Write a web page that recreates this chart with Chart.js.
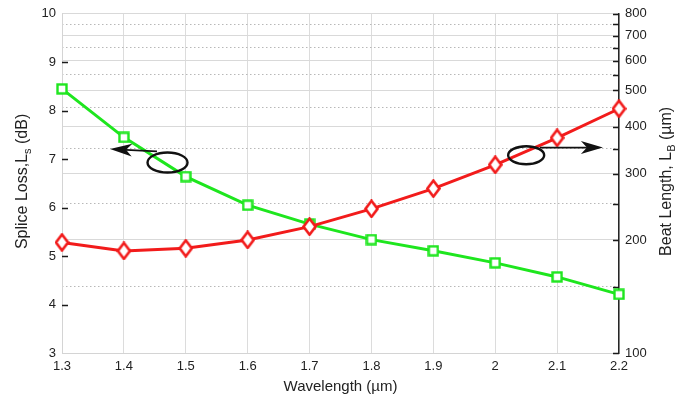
<!DOCTYPE html>
<html>
<head>
<meta charset="utf-8">
<script src="https://cdn.jsdelivr.net/npm/chart.js@4/dist/chart.umd.min.js"></script>
<style>
  html, body { margin: 0; padding: 0; background: #ffffff; }
  #wrap { width: 684px; height: 401px; }
</style>
</head>
<body>
<div id="wrap"><canvas id="c" width="684" height="401"></canvas></div>
<script>
// Wavelength samples (µm)
const wavelengths = [1.3, 1.4, 1.5, 1.6, 1.7, 1.8, 1.9, 2.0, 2.1, 2.2];
// Splice loss L_s (dB), left axis
const spliceLoss = [8.45, 7.45, 6.64, 6.05, 5.66, 5.34, 5.11, 4.86, 4.57, 4.21];
// Beat length L_B (µm), right log axis
const beatLength = [197, 187, 190, 200, 217, 242, 274, 317, 374, 447];

// Tick values
const xTicks = [1.3, 1.4, 1.5, 1.6, 1.7, 1.8, 1.9, 2.0, 2.1, 2.2];
const lossTicks = [3, 4, 5, 6, 7, 8, 9, 10];
const beatTicks = [100, 150, 200, 250, 300, 350, 400, 450, 500, 550, 600, 650, 700, 750, 800];
const beatLabels = [100, 200, 300, 400, 500, 600, 700, 800];

const FONT = '"Liberation Sans", Arial, Helvetica, sans-serif';
const GREEN = '#1ee61e';
const RED = '#f21b1b';

function markerSquare(color) {
  const s = 12, c = document.createElement('canvas');
  c.width = s; c.height = s;
  const g = c.getContext('2d');
  g.fillStyle = '#ffffff';
  g.strokeStyle = color;
  g.lineWidth = 2.4;
  g.fillRect(1.5, 1.5, s - 3, s - 3);
  g.strokeRect(1.5, 1.5, s - 3, s - 3);
  return c;
}

function markerDiamond(color) {
  const w = 15, h = 19, c = document.createElement('canvas');
  c.width = w; c.height = h;
  const g = c.getContext('2d');
  g.beginPath();
  g.moveTo(w / 2, 1.5);
  g.lineTo(w - 1.5, h / 2);
  g.lineTo(w / 2, h - 1.5);
  g.lineTo(1.5, h / 2);
  g.closePath();
  g.fillStyle = '#ffffff';
  g.fill();
  g.strokeStyle = color;
  g.lineWidth = 2.6;
  g.stroke();
  return c;
}

// Short inward tick marks on both vertical axes
const innerTicks = {
  id: 'innerTicks',
  beforeDatasetsDraw(chart) {
    const { ctx } = chart;
    const yl = chart.scales.yLoss, yb = chart.scales.yBeat;
    ctx.save();
    ctx.strokeStyle = '#1a1a1a';
    ctx.lineWidth = 1.3;
    ctx.beginPath();
    lossTicks.forEach(v => {
      if (v === yl.min || v === yl.max) return;
      const y = Math.round(yl.getPixelForValue(v)) + 0.5;
      ctx.moveTo(yl.right, y);
      ctx.lineTo(yl.right + 6, y);
    });
    beatTicks.forEach(v => {
      const y = Math.round(yb.getPixelForValue(v)) + 0.5;
      ctx.moveTo(yb.left, y);
      ctx.lineTo(yb.left - 6, y);
    });
    ctx.stroke();
    ctx.restore();
  }
};

// Rotated axis titles with subscripts
function drawRotatedTitle(ctx, cx, cy, parts, size) {
  ctx.save();
  ctx.translate(cx, cy);
  ctx.rotate(-Math.PI / 2);
  ctx.fillStyle = '#222222';
  ctx.textBaseline = 'middle';
  const subSize = Math.round(size * 0.7);
  let total = 0;
  parts.forEach(p => {
    ctx.font = (p.sub ? subSize : size) + 'px ' + FONT;
    total += ctx.measureText(p.t).width;
  });
  let x = -total / 2;
  parts.forEach(p => {
    ctx.font = (p.sub ? subSize : size) + 'px ' + FONT;
    ctx.textAlign = 'left';
    ctx.fillText(p.t, x, p.sub ? size * 0.32 : 0);
    x += ctx.measureText(p.t).width;
  });
  ctx.restore();
}

const sideTitles = {
  id: 'sideTitles',
  afterDraw(chart) {
    const { ctx, chartArea } = chart;
    const cy = (chartArea.top + chartArea.bottom) / 2;
    drawRotatedTitle(ctx, 23, cy - 2, [
      { t: 'Splice Loss,L' }, { t: 's', sub: true }, { t: ' (dB)' }
    ], 16);
    drawRotatedTitle(ctx, 667, cy - 2, [
      { t: 'Beat Length, L' }, { t: 'B', sub: true }, { t: ' (µm)' }
    ], 16);
  }
};

// Ellipses with arrows pointing each curve to its axis
const axisPointers = {
  id: 'axisPointers',
  afterDatasetsDraw(chart) {
    const { ctx } = chart;
    const x = chart.scales.x, y = chart.scales.yLoss;
    const ellipses = [
      { x: 1.4705, y: 6.93, rx: 20, ry: 10 },
      { x: 2.05, y: 7.08, rx: 18, ry: 9 }
    ];
    const arrows = [
      { from: [1.4535, 7.16], to: [1.3776, 7.21] },
      { from: [2.072, 7.24], to: [2.174, 7.24] }
    ];
    ctx.save();
    ctx.strokeStyle = '#111111';
    ctx.fillStyle = '#111111';
    ctx.lineWidth = 2.4;
    ellipses.forEach(e => {
      ctx.beginPath();
      ctx.ellipse(x.getPixelForValue(e.x), y.getPixelForValue(e.y), e.rx, e.ry, 0, 0, Math.PI * 2);
      ctx.stroke();
    });
    arrows.forEach(a => {
      const x0 = x.getPixelForValue(a.from[0]), y0 = y.getPixelForValue(a.from[1]);
      const x1 = x.getPixelForValue(a.to[0]), y1 = y.getPixelForValue(a.to[1]);
      const ang = Math.atan2(y1 - y0, x1 - x0);
      const L = 22, W = 6.5, N = 16;
      const ux = Math.cos(ang), uy = Math.sin(ang);
      const px = -uy, py = ux;
      ctx.lineWidth = 1.8;
      ctx.beginPath();
      ctx.moveTo(x0, y0);
      ctx.lineTo(x1 - ux * N, y1 - uy * N);
      ctx.stroke();
      ctx.beginPath();
      ctx.moveTo(x1, y1);
      ctx.lineTo(x1 - ux * L + px * W, y1 - uy * L + py * W);
      ctx.lineTo(x1 - ux * N, y1 - uy * N);
      ctx.lineTo(x1 - ux * L - px * W, y1 - uy * L - py * W);
      ctx.closePath();
      ctx.fill();
    });
    ctx.restore();
  }
};

new Chart(document.getElementById('c'), {
  type: 'line',
  data: {
    datasets: [
      {
        label: 'Beat Length',
        yAxisID: 'yBeat',
        data: wavelengths.map((w, i) => ({ x: w, y: beatLength[i] })),
        borderColor: RED,
        borderWidth: 3,
        pointStyle: markerDiamond(RED),
        pointRadius: 7,
        tension: 0,
        clip: false
      },
      {
        label: 'Splice Loss',
        yAxisID: 'yLoss',
        data: wavelengths.map((w, i) => ({ x: w, y: spliceLoss[i] })),
        borderColor: GREEN,
        borderWidth: 3,
        pointStyle: markerSquare(GREEN),
        pointRadius: 6,
        tension: 0,
        clip: false
      }
    ]
  },
  options: {
    responsive: false,
    animation: false,
    events: [],
    layout: { padding: { top: 13, left: 0, right: 0, bottom: 0 } },
    plugins: { legend: { display: false }, tooltip: { enabled: false } },
    scales: {
      x: {
        type: 'linear',
        position: 'bottom',
        min: 1.3,
        max: 2.2,
        afterBuildTicks: s => { s.ticks = xTicks.map(v => ({ value: v })); },
        afterFit: s => { s.height = 48; },
        ticks: {
          autoSkip: false,
          maxRotation: 0,
          padding: 6,
          color: '#222222',
          font: { family: FONT, size: 13 },
          callback: v => String(+Number(v).toFixed(1))
        },
        grid: { color: '#dcdcdc', lineWidth: 1, drawTicks: false },
        border: { color: '#d4d4d4', width: 1 },
        title: {
          display: true,
          text: 'Wavelength (µm)',
          color: '#222222',
          font: { family: FONT, size: 15 },
          padding: { top: 0, bottom: 5 }
        }
      },
      yLoss: {
        type: 'linear',
        position: 'left',
        min: 3,
        max: 10,
        afterBuildTicks: s => { s.ticks = lossTicks.map(v => ({ value: v })); },
        afterFit: s => { s.width = 62; },
        ticks: {
          autoSkip: false,
          padding: 6,
          color: '#222222',
          font: { family: FONT, size: 13 }
        },
        grid: { display: false, drawTicks: false },
        border: { color: '#d4d4d4', width: 1 }
      },
      yBeat: {
        type: 'logarithmic',
        position: 'right',
        min: 100,
        max: 800,
        afterBuildTicks: s => { s.ticks = beatTicks.map(v => ({ value: v })); },
        afterFit: s => { s.width = 65; },
        ticks: {
          autoSkip: false,
          padding: 6,
          color: '#222222',
          font: { family: FONT, size: 13 },
          callback: v => beatLabels.includes(v) ? String(v) : ''
        },
        grid: {
          drawTicks: false,
          lineWidth: 1,
          color: ctx => (ctx.tick && beatLabels.includes(ctx.tick.value)) ? '#d9d9d9' : '#b8b8b8'
        },
        border: {
          color: '#262626',
          width: 1.5,
          dash: ctx => (ctx.tick && !beatLabels.includes(ctx.tick.value)) ? [1.5, 2.5] : []
        }
      }
    }
  },
  plugins: [innerTicks, sideTitles, axisPointers]
});
</script>
</body>
</html>
